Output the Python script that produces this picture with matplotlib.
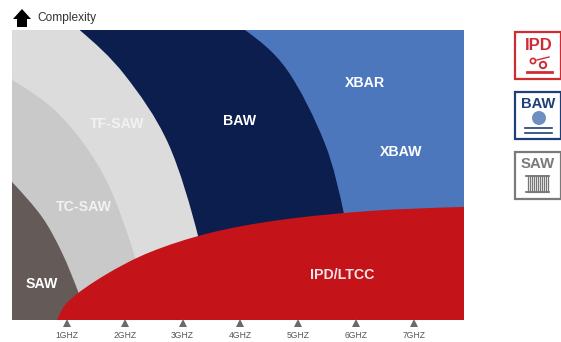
import matplotlib.pyplot as plt
from matplotlib.patches import PathPatch, Polygon, Rectangle, Circle
from matplotlib.path import Path

plt.rcParams["font.family"] = ["Liberation Sans", "DejaVu Sans"]

# -----------------------
# Data (x in GHz, y in complexity 0-100)
# -----------------------

ticks = [1, 2, 3, 4, 5, 6, 7]
tick_labels = ["1GHZ", "2GHZ", "3GHZ", "4GHZ", "5GHZ", "6GHZ", "7GHZ"]

baw_edge_x = [4.08, 4.81, 5.46, 5.79, 5.90]
baw_edge_y = [100, 86.2, 61, 36.9, 20.7]

tf_edge_x = [1.22, 2.00, 2.75, 3.27, 3.44]
tf_edge_y = [100, 84.5, 61, 28.9, 7]

tc_edge_x = [0.05, 0.91, 1.66, 2.18, 2.35]
tc_edge_y = [82.8, 70, 49, 21.4, 3.4]

saw_edge_x = [0.05, 0.57, 0.91, 1.19, 1.36]
saw_edge_y = [47.6, 35.5, 23.4, 10, 0]

ipd_edge_x = [0.83, 1.05, 1.66, 2.44, 3.47, 4.69, 6.24, 7.87]
ipd_edge_y = [0, 6.9, 15.5, 23.4, 30, 34.5, 37.6, 39]

labels = ["TF-SAW", "BAW", "XBAR", "XBAW", "TC-SAW", "SAW", "IPD/LTCC"]
label_x = [1.87, 3.98, 6.16, 6.78, 1.29, 0.57, 5.76]
label_y = [67.6, 68.6, 81.7, 58, 39, 12.4, 15.5]
label_colors = ["#f2f2f2", "white", "white", "white", "#f2f2f2", "white", "#f4e4e4"]

X_MIN, X_MAX = 0.05, 7.87

BLUE = "#4d77bd"
NAVY = "#0c1e4e"
LIGHT = "#dcdcdc"
MID = "#c9c9c9"
BROWN = "#645a58"
RED = "#c4141a"


def smooth_verts(xs, ys):
    # bezier segments through the read points, end tangents keep the curve bending
    pts = list(zip(xs, ys))
    n = len(pts)
    tang = [None] * n
    for i in range(1, n - 1):
        tang[i] = ((pts[i + 1][0] - pts[i - 1][0]) / 2, (pts[i + 1][1] - pts[i - 1][1]) / 2)
    tang[0] = (1.5 * (pts[1][0] - pts[0][0]) - 0.5 * tang[1][0],
               1.5 * (pts[1][1] - pts[0][1]) - 0.5 * tang[1][1])
    tang[-1] = (1.5 * (pts[-1][0] - pts[-2][0]) - 0.5 * tang[-2][0],
                1.5 * (pts[-1][1] - pts[-2][1]) - 0.5 * tang[-2][1])
    verts = [pts[0]]
    for i in range(n - 1):
        verts.append((pts[i][0] + tang[i][0] / 3, pts[i][1] + tang[i][1] / 3))
        verts.append((pts[i + 1][0] - tang[i + 1][0] / 3, pts[i + 1][1] - tang[i + 1][1] / 3))
        verts.append(pts[i + 1])
    return verts


def region(ax, xs, ys, color, corners, z):
    verts = smooth_verts(xs, ys)
    codes = [Path.MOVETO] + [Path.CURVE4] * (len(verts) - 1)
    for c in corners:
        verts.append(c)
        codes.append(Path.LINETO)
    verts.append(verts[0])
    codes.append(Path.CLOSEPOLY)
    ax.add_patch(PathPatch(Path(verts, codes), facecolor=color, edgecolor="none", zorder=z))


# -----------------------
# Main chart
# -----------------------

fig = plt.figure(figsize=(5.61, 3.42), dpi=100)

ax = fig.add_axes([12 / 561, 1 - 320 / 342, 452 / 561, 290 / 342])
ax.set_xlim(X_MIN, X_MAX)
ax.set_ylim(0, 100)
ax.set_facecolor(BLUE)

top_left = [(X_MIN, 0), (X_MIN, 100)]

region(ax, baw_edge_x, baw_edge_y, NAVY, top_left, 1)
region(ax, tf_edge_x, tf_edge_y, LIGHT, top_left, 2)
region(ax, tc_edge_x, tc_edge_y, MID, [(2.35, 0), (X_MIN, 0)], 3)
region(ax, saw_edge_x, saw_edge_y, BROWN, [(X_MIN, 0)], 4)
region(ax, ipd_edge_x, ipd_edge_y, RED, [(X_MAX, 0)], 5)

for name, x, y, c in zip(labels, label_x, label_y, label_colors):
    ax.text(x, y, name, color=c, fontsize=10.2, fontweight="bold",
            ha="center", va="center", zorder=6)

ax.plot(ticks, [-0.9] * len(ticks), "^", color="#6a6a6a", markersize=6,
        markeredgewidth=0, clip_on=False, zorder=7)

ax.set_xticks(ticks)
ax.set_xticklabels(tick_labels, fontsize=6.2, color="#555555")
ax.tick_params(axis="x", length=0, pad=8)
ax.set_yticks([])
for s in ax.spines.values():
    s.set_visible(False)

# -----------------------
# Arrow and icons, in pixel coordinates
# -----------------------

ov = fig.add_axes([0, 0, 1, 1], facecolor="none")
ov.set_xlim(0, 561)
ov.set_ylim(342, 0)
ov.axis("off")

ov.add_patch(Polygon([(13, 19), (22, 9), (31, 19), (27, 19), (27, 27), (17, 27), (17, 19)],
                     facecolor="black", edgecolor="none"))
ov.text(37, 18, "Complexity", fontsize=8.6, color="#333333", va="center", ha="left")

IPD_RED = "#cf2b33"
BAW_BLUE = "#1f3f78"
SAW_GRAY = "#7a7a7a"

ov.add_patch(Rectangle((515, 32), 46, 47, fill=False, edgecolor=IPD_RED, linewidth=1.6))
ov.text(539, 45, "IPD", color=IPD_RED, fontsize=12, fontweight="bold", ha="center", va="center")
ov.add_patch(Circle((533, 61), 2.6, fill=False, edgecolor=IPD_RED, linewidth=1.2))
ov.add_patch(Circle((543, 65), 3.2, fill=False, edgecolor=IPD_RED, linewidth=1.4))
ov.plot([537, 549], [60, 57], color=IPD_RED, linewidth=1)
ov.plot([527, 552], [72, 72], color=IPD_RED, linewidth=2)

ov.add_patch(Rectangle((515, 92), 46, 47, fill=False, edgecolor=BAW_BLUE, linewidth=1.6))
ov.text(538, 103.5, "BAW", color=BAW_BLUE, fontsize=10.6, fontweight="bold", ha="center", va="center")
ov.add_patch(Circle((539, 118), 7, facecolor="#6f8fc0", edgecolor="none"))
ov.plot([525, 552], [128, 128], color=BAW_BLUE, linewidth=1.2)
ov.plot([525, 552], [133, 133], color=BAW_BLUE, linewidth=1.2)

ov.add_patch(Rectangle((515, 152), 46, 47, fill=False, edgecolor=SAW_GRAY, linewidth=1.6))
ov.text(538, 164.5, "SAW", color=SAW_GRAY, fontsize=10.8, fontweight="bold", ha="center", va="center")
ov.plot([526, 549], [176, 176], color="#666666", linewidth=1.2)
ov.plot([526, 549], [192, 192], color="#666666", linewidth=1.2)
for comb_x in range(528, 549, 2):
    ov.plot([comb_x, comb_x], [176, 192], color="#777777", linewidth=0.9)

plt.savefig("out.png", dpi=100)
